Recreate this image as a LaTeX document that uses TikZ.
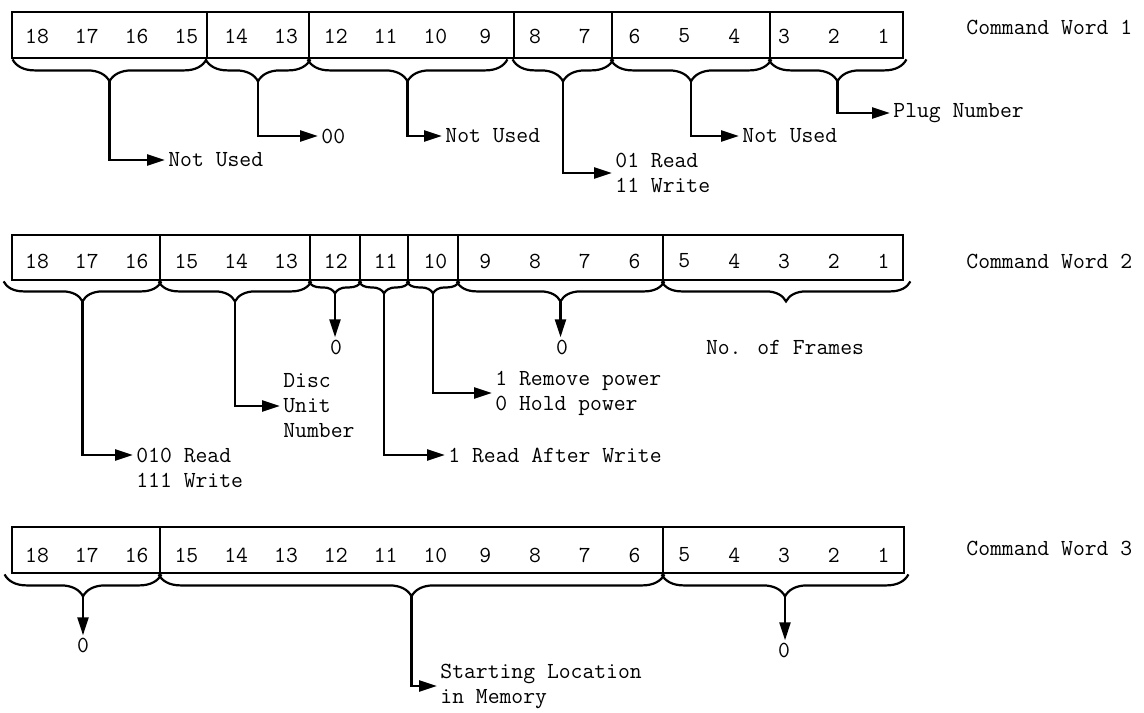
\documentclass[tikz,border=0pt]{standalone}
\usetikzlibrary{arrows.meta,decorations.pathreplacing,calc,fit}
\newcommand\lblfont{\ttfamily\fontsize{11.5}{12.5}\selectfont}
\newcommand\bitfont{\ttfamily\fontsize{11.5}{12.5}\selectfont}
% brace under a field: tip name, field node, left/right overhang (px), amplitude (pt)
\newcommand\fieldbrace[5]{%
  \coordinate (#1L) at ($(#2.south west)+(-#3,0)$);
  \coordinate (#1R) at ($(#2.south east)+(#4,0)$);
  \draw[bracepath, decoration={brace, mirror, amplitude=#5pt}] (#1L) -- (#1R);
  \coordinate (#1) at ($(#1L)!0.5!(#1R)+(0,2*#5)$);
}
\tikzset{
  field/.style={draw, line width=1.4pt, inner sep=0pt},
  bit/.style={font=\bitfont, inner sep=0pt},
  lbl/.style={font=\lblfont, align=left, inner xsep=1.5pt, inner ysep=1pt, anchor=west},
  zero/.style={font=\lblfont, inner sep=1pt},
  title/.style={font=\lblfont, inner sep=0pt, anchor=west},
  conn/.style={line width=1.2pt, line join=miter, -{Triangle[length=9pt,width=5.5pt]}},
  bracepath/.style={line width=1.1pt, decorate},
}
\begin{document}
\begin{tikzpicture}[x=0.5pt, y=-0.5pt]
\useasboundingbox (0,0) rectangle (1144,712);

% ---------------- Command Word 1 ----------------
\node[field, fit={(12,12)(207,58)}]  (f1a) {};
\node[field, fit={(207,12)(309,58)}] (f1b) {};
\node[field, fit={(309,12)(514,58)}] (f1c) {};
\node[field, fit={(514,12)(612,58)}] (f1d) {};
\node[field, fit={(612,12)(770,58)}] (f1e) {};
\node[field, fit={(770,12)(903,58)}] (f1f) {};
\foreach \b in {1,...,18} \node[bit] (r1n\b) at ({37+(18-\b)*49.8},36) {\b};
\node[title] (cw1) at (966,27) {Command Word 1};

\fieldbrace{b1a}{f1a}{-2}{-2}{11}
\fieldbrace{b1b}{f1b}{0}{0}{11}
\fieldbrace{b1c}{f1c}{0}{-8}{11}
\fieldbrace{b1d}{f1d}{0}{0}{11}
\fieldbrace{b1e}{f1e}{0}{0}{11}
\fieldbrace{b1f}{f1f}{0}{2}{11}

\node[lbl] (l1a) at (165,160) {Not Used};
\node[lbl] (l1b) at (318,136) {00};
\node[lbl] (l1c) at (442,136) {Not Used};
\node[lbl] (l1d) at (612,173) {01 Read\\11 Write};
\node[lbl] (l1e) at (739,136) {Not Used};
\node[lbl] (l1f) at (890,113) {Plug Number};

\draw[conn] (b1a) |- (l1a.west);
\draw[conn] (b1b) |- (l1b.west);
\draw[conn] (b1c) |- (l1c.west);
\draw[conn] (b1d) |- (l1d.west);
\draw[conn] (b1e) |- (l1e.west);
\draw[conn] (b1f) |- (l1f.west);

% ---------------- Command Word 2 ----------------
\node[field, fit={(12,235)(160,280)}]  (f2a) {};
\node[field, fit={(160,235)(310,280)}] (f2b) {};
\node[field, fit={(310,235)(360,280)}] (f2c) {};
\node[field, fit={(360,235)(408,280)}] (f2d) {};
\node[field, fit={(408,235)(458,280)}] (f2e) {};
\node[field, fit={(458,235)(663,280)}] (f2f) {};
\node[field, fit={(663,235)(903,280)}] (f2g) {};
\foreach \b in {1,...,18} \node[bit] (r2n\b) at ({37+(18-\b)*49.8},261) {\b};
\node[title] (cw2) at (966,261) {Command Word 2};

\fieldbrace{b2a}{f2a}{7}{0}{10}
\fieldbrace{b2b}{f2b}{0}{0}{10}
\fieldbrace{b2c}{f2c}{0}{0}{6}
\fieldbrace{b2d}{f2d}{0}{0}{6}
\fieldbrace{b2e}{f2e}{0}{0}{6}
\fieldbrace{b2f}{f2f}{0}{0}{10}
\fieldbrace{b2g}{f2g}{0}{6}{10}

\node[lbl] (l2a)  at (133,455) {010 Read};
\node[lbl] (l2a2) at (133,480) {111 Write};
\node[lbl] (l2b)  at (280,406) {Disc\\Unit\\Number};
\node[zero] (z2c) at (336,347) {0};
\node[lbl] (l2d)  at (445,455) {1 Read After Write};
\node[lbl] (l2e)  at (492,393) {1 Remove power\\0 Hold power};
\node[zero] (z2f) at (562,347) {0};
\node[zero] (n2g) at (785,347) {No. of Frames};

\draw[conn] (b2a) |- (l2a.west);
\draw[conn] (b2b) |- (l2b.west);
\draw[conn] (b2c) -- (b2c |- z2c.north);
\draw[conn] (b2d) |- (l2d.west);
\draw[conn] (b2e) |- (l2e.west);
\draw[conn] (b2f) -- (b2f |- z2f.north);

% ---------------- Command Word 3 ----------------
\node[field, fit={(12,527)(160,573)}]  (f3a) {};
\node[field, fit={(160,527)(663,573)}] (f3b) {};
\node[field, fit={(663,527)(904,573)}] (f3c) {};
\foreach \b in {1,...,18} \node[bit] (r3n\b) at ({37+(18-\b)*49.8},555) {\b};
\node[title] (cw3) at (966,548) {Command Word 3};

\fieldbrace{b3a}{f3a}{6}{0}{11}
\fieldbrace{b3b}{f3b}{0}{0}{11}
\fieldbrace{b3c}{f3c}{0}{3}{11}

\node[zero] (z3a) at (83,645) {0};
\node[lbl]  (l3b) at (437,686) {Starting Location\\in Memory};
\node[zero] (z3c) at (784,650) {0};

\draw[conn] (b3a) -- (b3a |- z3a.north);
\draw[conn] (b3b) |- (l3b.west);
\draw[conn] (b3c) -- (b3c |- z3c.north);
\end{tikzpicture}
\end{document}
